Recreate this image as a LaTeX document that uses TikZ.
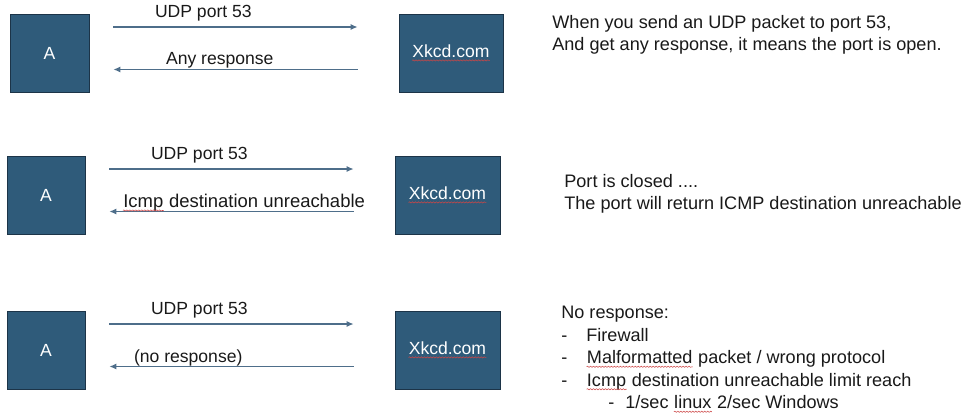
\documentclass[tikz,border=0pt]{standalone}
\usepackage{fontspec}
\setmainfont{Liberation Sans}
\usetikzlibrary{arrows.meta,decorations.pathmorphing}

\definecolor{boxblue}{RGB}{47,91,122}
\definecolor{boxline}{RGB}{28,52,72}
\definecolor{arrowblue}{RGB}{78,110,138}
\definecolor{textgray}{RGB}{25,25,25}
\definecolor{typored}{RGB}{205,70,70}
\newcommand{\typo}[1]{\tikz[baseline=(tw.base)]{\node[inner sep=0pt, minimum width=0pt, minimum height=0pt, draw=none, fill=none, anchor=base west] (tw) at (0,0) {#1}; \draw[-, shorten <=0pt, shorten >=0pt, typored, line width=0.3pt, decorate, decoration={snake, amplitude=0.35pt, segment length=1.7pt}] ([yshift=-1.7pt]tw.base west) -- ([yshift=-1.7pt]tw.base east);}}

\begin{document}
\begin{tikzpicture}[x=0.02cm, y=-0.02cm,
	host/.style={draw=boxline, fill=boxblue, text=white, minimum height=1.56cm, inner sep=0pt, font=\fontsize{10}{12}\selectfont},
	req/.style={-{Latex[length=4pt,width=3.5pt]}, color=arrowblue, line width=0.8pt, shorten <=0.48cm, shorten >=0.82cm},
	resp/.style={-{Latex[length=4pt,width=3.5pt]}, color=arrowblue, line width=0.8pt, shorten <=0.82cm, shorten >=0.48cm},
	lbl/.style={anchor=base west, inner sep=0pt, text=textgray, font=\fontsize{10}{12}\selectfont},
	note/.style={anchor=north west, inner sep=0pt, align=left, text=textgray, font=\fontsize{10.3}{12.8}\selectfont}]
	\useasboundingbox (0,0) rectangle (974,416);

	% open port
	\node[host, minimum width=1.58cm] (A1) at (49.5,53) {A};
	\node[host, minimum width=2.08cm] (X1) at (451,53) {\typo{Xkcd.com}};
	\draw[req] ([yshift=0.52cm]A1.east) -- ([yshift=0.52cm]X1.west) node[lbl, pos=0, xshift=1.3cm, yshift=0.2cm] {UDP port 53};
	\draw[resp] ([yshift=-0.33cm]X1.west) -- ([yshift=-0.33cm]A1.east) node[lbl, pos=1, xshift=1.52cm, yshift=0.1cm] {Any response};
	\node[note] (N1) at (552,15) {When you send an UDP packet to port 53,\\And get any response, it means the port is open.};

	% closed port
	\node[host, minimum width=1.56cm] (A2) at (46,195) {A};
	\node[host, minimum width=2.1cm] (X2) at (447.5,195) {\typo{Xkcd.com}};
	\draw[req] ([yshift=0.52cm]A2.east) -- ([yshift=0.52cm]X2.west) node[lbl, pos=0, xshift=1.3cm, yshift=0.2cm] {UDP port 53};
	\draw[resp] ([yshift=-0.33cm]X2.west) -- ([yshift=-0.33cm]A2.east) node[lbl, pos=1, xshift=0.74cm, yshift=0.08cm, font=\fontsize{10.5}{12}\selectfont] {\typo{Icmp} destination unreachable};
	\node[note] (N2) at (564,174) {Port is closed ....\\The port will return ICMP destination unreachable};

	% no response
	\node[host, minimum width=1.56cm] (A3) at (46,350) {A};
	\node[host, minimum width=2.1cm] (X3) at (447.5,350) {\typo{Xkcd.com}};
	\draw[req] ([yshift=0.52cm]A3.east) -- ([yshift=0.52cm]X3.west) node[lbl, pos=0, xshift=1.3cm, yshift=0.2cm] {UDP port 53};
	\draw[resp] ([yshift=-0.33cm]X3.west) -- ([yshift=-0.33cm]A3.east) node[lbl, pos=1, xshift=0.96cm, yshift=0.08cm] {(no response)};
	\node[note] (N3) at (561,306) {No response:\\
		\makebox[0.5cm][l]{-}Firewall\\
		\makebox[0.5cm][l]{-}\typo{Malformatted} packet / wrong protocol\\
		\makebox[0.5cm][l]{-}\typo{Icmp} destination unreachable limit reach\\
		\hspace*{0.94cm}\makebox[0.34cm][l]{-}1/sec \typo{linux} 2/sec Windows};
\end{tikzpicture}
\end{document}
